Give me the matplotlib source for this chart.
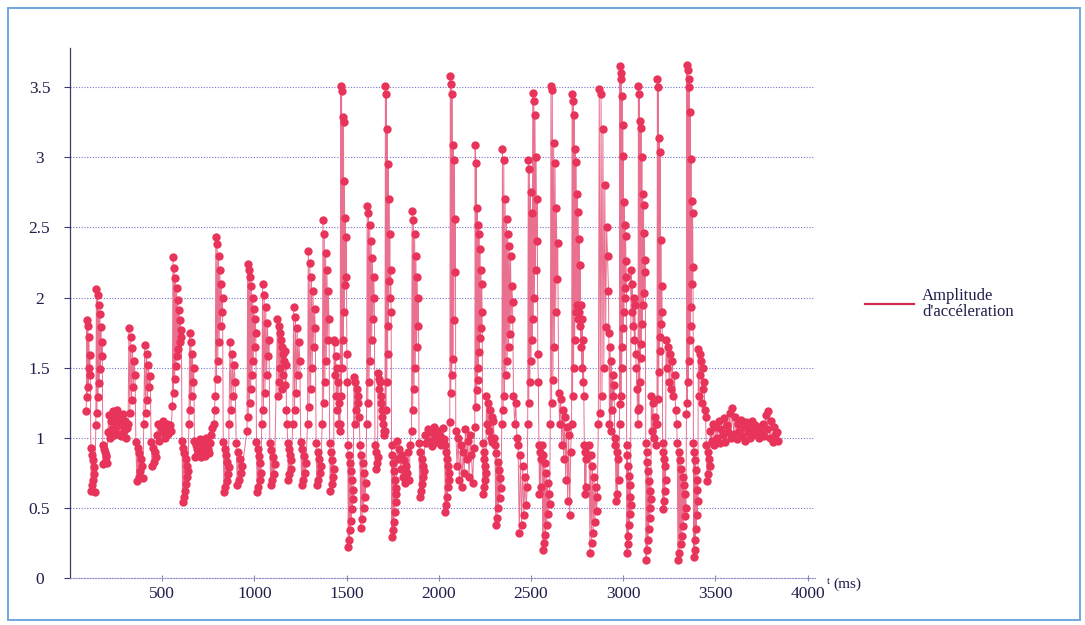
import numpy as np
import matplotlib.pyplot as plt
from matplotlib.lines import Line2D
from matplotlib.patches import Rectangle

# acceleration amplitude recorded in bursts: start / end time of each burst (ms)
t_start = [88, 140, 205, 315, 400, 470, 555, 645, 692, 780,
           862, 960, 1040, 1125, 1208, 1288, 1368, 1432, 1465, 1540,
           1608, 1670, 1708, 1775, 1852, 1925, 2032, 2092, 2195, 2258,
           2305, 2405, 2482, 2560, 2650, 2720, 2815, 2865, 2922, 2980,
           3042, 3080, 3152, 3183, 3232, 3293, 3343, 3407, 3472]
t_end = [135, 200, 310, 395, 465, 548, 640, 690, 770, 860,
         935, 1035, 1110, 1200, 1280, 1360, 1430, 1462, 1535, 1605,
         1668, 1705, 1770, 1845, 1920, 2030, 2090, 2190, 2255, 2300,
         2400, 2480, 2555, 2645, 2715, 2800, 2860, 2920, 2975, 3040,
         3078, 3150, 3180, 3230, 3290, 3340, 3405, 3470, 3840]

# samples of each burst, in time order
amp_values = [
    [1.19, 1.84, 1.29, 1.80, 1.36, 1.72, 1.50, 1.59, 1.45,
     0.93, 0.62, 0.88, 0.66, 0.84, 0.70, 0.79, 0.74, 0.61],
    [1.09, 2.06, 1.18, 2.02, 1.29, 1.95, 1.39, 1.88, 1.49, 1.79, 1.58, 1.68,
     0.95, 0.81, 0.92, 0.83, 0.90, 0.86, 0.88, 0.82],
    [1.04, 1.16, 1.00, 1.12, 1.06, 1.19, 1.02, 1.14, 1.08, 1.20,
     1.03, 1.10, 1.15, 1.01, 1.09, 1.17, 1.05, 1.12, 1.00, 1.07],
    [1.10, 1.78, 1.18, 1.72, 1.27, 1.64, 1.36, 1.55, 1.45,
     0.97, 0.69, 0.93, 0.72, 0.89, 0.76, 0.85, 0.80, 0.71],
    [1.10, 1.66, 1.18, 1.60, 1.27, 1.52, 1.36, 1.44,
     0.97, 0.80, 0.93, 0.83, 0.90, 0.86],
    [1.02, 1.10, 0.98, 1.08, 1.04, 1.12, 1.00, 1.06, 1.10, 1.03, 1.09, 1.05],
    [1.23, 2.29, 1.32, 2.21, 1.42, 2.14, 1.51, 2.07, 1.58, 1.98, 1.63, 1.91,
     1.68, 1.84, 1.72, 1.77,
     0.98, 0.54, 0.93, 0.58, 0.89, 0.62, 0.85, 0.67, 0.80, 0.72, 0.76],
    [1.10, 1.75, 1.20, 1.68, 1.30, 1.60, 1.40, 1.50,
     0.98, 0.86, 0.95, 0.88, 0.92],
    [0.95, 0.88, 0.99, 0.86, 0.93, 0.90, 0.97, 0.87, 1.00, 0.92, 0.89, 0.96,
     1.02, 1.07],
    [1.10, 1.20, 1.30, 2.43, 1.42, 2.38, 1.55, 2.30, 1.68, 2.20, 1.80, 2.10,
     1.90, 2.00,
     0.97, 0.61, 0.92, 0.65, 0.88, 0.69, 0.83, 0.74, 0.79],
    [1.10, 1.68, 1.20, 1.60, 1.30, 1.52, 1.40,
     0.96, 0.66, 0.90, 0.70, 0.85, 0.75, 0.80],
    [1.05, 2.24, 1.15, 2.20, 1.25, 2.15, 1.35, 2.08, 1.45, 2.00, 1.55, 1.92,
     1.65, 1.85, 1.75,
     0.97, 0.61, 0.92, 0.65, 0.87, 0.70, 0.82, 0.75],
    [1.10, 2.10, 1.20, 2.02, 1.32, 1.93, 1.45, 1.82, 1.58, 1.70,
     0.96, 0.66, 0.91, 0.70, 0.86, 0.74, 0.81],
    [1.85, 1.30, 1.80, 1.40, 1.75, 1.50, 1.70, 1.35, 1.65, 1.45, 1.60, 1.55,
     1.62, 1.38, 1.52, 1.20, 1.10,
     0.96, 0.70, 0.92, 0.74, 0.88, 0.78, 0.84],
    [1.10, 1.93, 1.20, 1.86, 1.32, 1.78, 1.45, 1.68, 1.55,
     0.97, 0.66, 0.92, 0.70, 0.87, 0.75, 0.82],
    [1.10, 2.33, 1.22, 2.25, 1.35, 2.15, 1.50, 2.05, 1.65, 1.92, 1.78,
     0.96, 0.66, 0.90, 0.70, 0.85, 0.75, 0.80],
    [1.10, 2.55, 1.25, 2.45, 1.40, 2.32, 1.55, 2.20, 1.70, 2.05, 1.85,
     0.96, 0.62, 0.90, 0.67, 0.84, 0.72, 0.78],
    [1.70, 1.68, 1.45, 1.58, 1.30, 1.50, 1.20, 1.40, 1.10, 1.25, 1.05],
    [1.10, 3.51, 1.30, 3.47, 1.50, 3.29, 1.70, 3.25, 1.90, 2.83, 2.09, 2.57,
     2.15, 2.43, 1.60, 1.40,
     0.95, 0.22, 0.88, 0.27, 0.82, 0.34, 0.76, 0.41, 0.70, 0.49, 0.63, 0.56],
    [1.43, 1.10, 1.40, 1.20, 1.35, 1.25, 1.30, 1.15,
     0.95, 0.36, 0.88, 0.42, 0.82, 0.50, 0.75, 0.58, 0.68],
    [1.10, 2.65, 1.25, 2.60, 1.40, 2.52, 1.55, 2.40, 1.70, 2.28, 1.85, 2.15,
     2.00,
     0.95, 0.78, 0.90, 0.82, 0.86],
    [1.46, 1.42, 1.35, 1.40, 1.30, 1.25, 1.20, 1.15, 1.10, 1.05, 1.02],
    [1.05, 3.51, 1.20, 3.45, 1.40, 3.20, 1.60, 2.95, 1.80, 2.70, 2.12, 2.45,
     2.00, 2.20, 1.90,
     0.95, 0.29, 0.88, 0.34, 0.82, 0.40, 0.76, 0.47, 0.70, 0.54, 0.64, 0.60],
    [0.98, 0.85, 0.92, 0.78, 0.88, 0.72, 0.84, 0.68, 0.80, 0.75, 0.90, 0.70,
     0.95],
    [1.05, 2.62, 1.20, 2.55, 1.35, 2.45, 1.50, 2.30, 1.65, 2.15, 1.80, 2.00,
     0.96, 0.58, 0.90, 0.62, 0.85, 0.67, 0.80, 0.72, 0.76],
    [1.02, 0.96, 1.06, 0.98, 1.04, 0.94, 1.08, 1.00, 0.97, 1.05, 1.01, 0.95,
     1.07, 0.99],
    [0.95, 0.47, 0.90, 0.52, 0.85, 0.58, 0.80, 0.65, 0.75, 0.70,
     1.11, 3.58, 1.32, 3.52, 1.45, 3.45, 1.56, 3.09, 1.84, 2.98, 2.18, 2.56],
    [1.05, 0.80, 1.00, 0.70, 0.95, 0.65, 0.90, 0.75, 1.06, 0.85, 0.98, 0.72,
     1.02, 0.88, 0.68, 0.93],
    [1.08, 3.09, 1.22, 2.96, 1.34, 2.64, 1.41, 2.52, 1.50, 2.45, 1.61, 2.35,
     1.71, 2.20, 1.78, 2.10, 1.90,
     0.96, 0.60, 0.90, 0.65, 0.85, 0.70, 0.80, 0.75],
    [1.30, 1.10, 1.25, 1.05, 1.20, 1.00, 1.15, 0.97, 1.12, 1.00],
    [0.95, 0.38, 0.89, 0.43, 0.83, 0.50, 0.77, 0.57, 0.71, 0.64,
     1.10, 3.06, 1.20, 2.98, 1.30, 2.70, 1.45, 2.56, 1.55, 2.45, 1.65, 2.37,
     1.74, 2.30, 1.85, 2.08, 1.97],
    [1.30, 1.10, 1.25, 1.00,
     0.95, 0.32, 0.88, 0.38, 0.80, 0.45, 0.72, 0.52, 0.65],
    [1.10, 2.98, 1.25, 2.92, 1.40, 2.75, 1.55, 2.60, 1.70, 3.46, 1.85, 3.40,
     2.00, 3.30, 2.20, 3.00, 2.40, 2.70, 1.60, 1.40,
     0.95, 0.60, 0.90, 0.65, 0.85],
    [0.95, 0.20, 0.88, 0.25, 0.82, 0.31, 0.75, 0.38, 0.68, 0.46, 0.60, 0.53,
     1.10, 3.51, 1.25, 3.48, 1.41, 3.10, 1.65, 2.96, 1.90, 2.64, 2.13, 2.39],
    [1.32, 1.10, 1.28, 0.95, 1.20, 0.85, 1.15, 0.70, 1.08, 0.55, 1.02, 0.45,
     0.90],
    [1.10, 3.45, 1.30, 3.40, 1.50, 3.30, 1.70, 3.06, 1.90, 2.97, 1.95, 2.74,
     1.85, 2.61, 1.90, 2.42, 1.80, 2.23, 1.65, 1.95, 1.50, 1.85, 1.40, 1.70,
     1.30,
     0.95, 0.60, 0.90, 0.65, 0.85],
    [0.95, 0.18, 0.88, 0.25, 0.80, 0.32, 0.72, 0.40, 0.65, 0.48, 0.58],
    [1.10, 3.49, 1.18, 3.45, 1.30, 3.20, 1.50, 2.80, 1.79, 2.50, 2.30, 2.05],
    [1.75, 1.10, 1.65, 1.05, 1.55, 1.20, 1.45, 1.30, 1.38, 1.00,
     0.95, 0.55, 0.90, 0.60, 0.85, 0.70],
    [1.10, 3.65, 1.24, 3.60, 1.30, 3.56, 1.50, 3.44, 1.65, 3.23, 1.78, 3.01,
     1.90, 2.68, 2.00, 2.52, 2.07, 2.44, 2.26, 2.15,
     0.95, 0.18, 0.88, 0.24, 0.80, 0.30, 0.73, 0.38, 0.66, 0.46, 0.58, 0.52],
    [2.20, 1.90, 2.10, 1.80, 2.00, 1.70, 1.95, 1.60, 1.50, 1.35, 1.20],
    [1.10, 3.51, 1.21, 3.45, 1.40, 3.26, 1.57, 3.21, 1.67, 3.00, 1.81, 2.74,
     1.95, 2.66, 2.03, 2.46, 2.18, 2.27,
     0.96, 0.13, 0.90, 0.20, 0.83, 0.27, 0.76, 0.35, 0.69, 0.43, 0.62, 0.50,
     0.56],
    [1.30, 1.05, 1.25, 1.00, 1.15, 0.95, 1.10],
    [1.10, 3.56, 1.28, 3.50, 1.47, 3.14, 1.62, 3.04, 1.72, 2.41, 1.81, 2.08,
     1.90,
     0.96, 0.49, 0.90, 0.55, 0.85, 0.62, 0.80, 0.70],
    [1.70, 1.50, 1.65, 1.40, 1.60, 1.35, 1.55, 1.30, 1.45, 1.20, 1.10],
    [0.96, 0.13, 0.90, 0.18, 0.84, 0.24, 0.78, 0.30, 0.72, 0.37, 0.66, 0.44,
     0.60, 0.50],
    [1.17, 3.66, 1.25, 3.62, 1.40, 3.56, 1.55, 3.50, 1.70, 3.32, 1.80, 2.99,
     1.93, 2.69, 2.10, 2.60, 2.22,
     0.96, 0.15, 0.90, 0.20, 0.84, 0.27, 0.77, 0.35, 0.70, 0.45, 0.63, 0.55],
    [1.63, 1.30, 1.60, 1.45, 1.55, 1.25, 1.50, 1.35, 1.40, 1.20, 1.15,
     0.95, 0.69, 0.90, 0.74, 0.85, 0.80],
    [1.05, 0.98, 1.10, 0.95, 1.08, 1.00, 1.12, 0.96, 1.06, 1.02, 1.14, 0.97,
     1.09, 1.04, 1.18, 1.00, 1.21, 1.03, 1.15, 0.99, 1.10, 1.05, 1.13, 1.01,
     1.08, 0.98, 1.11, 1.04, 1.07, 1.00, 1.12, 1.02, 1.09, 1.05, 1.06, 1.00,
     1.08, 1.03, 1.10, 1.01, 1.16, 1.06, 1.19, 1.00, 1.12, 0.97, 1.08, 1.02,
     1.04, 0.98],
]

x_ticks = [500, 1000, 1500, 2000, 2500, 3000, 3500, 4000]
y_ticks = [0, 0.5, 1, 1.5, 2, 2.5, 3, 3.5]
y_labels = ["0", "0.5", "1", "1.5", "2", "2.5", "3", "3.5"]

# spread each burst's samples over its time span
t = np.concatenate([np.linspace(a, b, len(v))
                    for a, b, v in zip(t_start, t_end, amp_values)])
amp = np.concatenate([np.asarray(v) for v in amp_values])

W, H = 1085, 625
fig = plt.figure(figsize=(W / 100, H / 100), dpi=100)
ax = fig.add_axes([70 / W, 47 / H, 745 / W, 530 / H])

red = "#e8335a"
ink = "#1e1e4c"
ax.plot(t, amp, color="#ea7090", lw=0.7, zorder=2)
ax.plot(t, amp, ls="none", marker="o", ms=6, mew=0, color=red, zorder=3)

ax.set_xlim(0, 4040)
ax.set_ylim(0, 3.78)
ax.set_xticks(x_ticks)
ax.set_yticks(y_ticks)
ax.set_yticklabels(y_labels)

ax.grid(axis="y", color="#7474cc", lw=0.8, ls=(0, (1, 1.5)))
ax.set_axisbelow(True)
for side in ("top", "right"):
    ax.spines[side].set_visible(False)
ax.spines["left"].set_color("#3a3a70")
ax.spines["left"].set_linewidth(0.9)
ax.spines["bottom"].set_color("#8c8cd0")
ax.spines["bottom"].set_linestyle((0, (1, 1.5)))
ax.spines["bottom"].set_linewidth(0.8)

tick_font = {"family": "Liberation Serif", "size": 12.5, "color": ink}
ax.tick_params(axis="x", direction="inout", length=4, color="#8888aa", pad=4)
ax.tick_params(axis="y", direction="out", length=4, color="#3a3a70", pad=18)
for lab in ax.get_xticklabels():
    lab.set(**tick_font)
for lab in ax.get_yticklabels():
    lab.set(**tick_font)
    lab.set_horizontalalignment("center")

# axis unit written after the last tick
fig.text(827 / W, 1 - 581 / H, "t", fontsize=8, family="Liberation Serif",
         color=ink, va="center")
fig.text(833 / W, 1 - 584 / H, "(ms)", fontsize=11, family="Liberation Serif",
         color=ink, va="center")

handle = Line2D([], [], color="#d42a55", lw=1.6)
fig.legend([handle], ["Amplitude\nd'accéleration"], loc="center left",
           bbox_to_anchor=(862 / W, 1 - 304 / H), frameon=False,
           borderaxespad=0, borderpad=0.2, handlelength=2.9,
           handletextpad=0.5,
           prop={"family": "Liberation Serif", "size": 12})
for txt in fig.legends[0].get_texts():
    txt.set_color(ink)
    txt.set_linespacing(0.95)

# light blue frame around the chart area
fig.add_artist(Rectangle((8 / W, 5 / H), 1072 / W, 612 / H,
                         transform=fig.transFigure, fill=False,
                         edgecolor="#6fa8e0", lw=1.4))

fig.savefig("out.png", dpi=100)
